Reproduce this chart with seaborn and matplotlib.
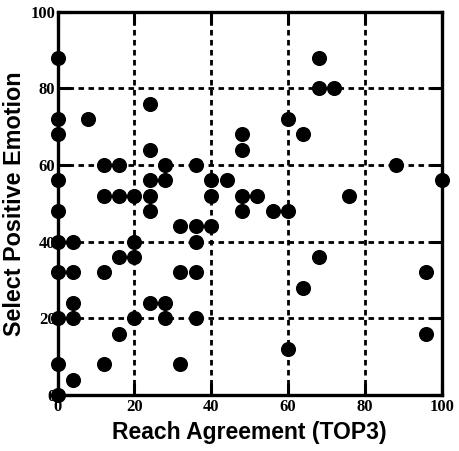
import matplotlib
matplotlib.use("Agg")
import matplotlib.pyplot as plt
import seaborn as sns
import pandas as pd

reach = [0, 0, 0, 8, 24, 24, 12, 16, 28, 36,
         0, 24, 28, 40, 44,
         12, 16, 20, 24, 40,
         0, 24,
         32, 36, 40, 36,
         0, 4, 20, 16, 20,
         0, 4, 12, 32, 36,
         4, 24, 28,
         0, 4, 20, 28, 36,
         16, 0, 12, 32, 4, 0,
         68, 68, 72, 60, 48, 64, 48, 88, 100,
         48, 52, 76, 48, 56, 60,
         68, 64, 96, 96, 60]
emotion = [88, 72, 68, 72, 76, 64, 60, 60, 60, 60,
           56, 56, 56, 56, 56,
           52, 52, 52, 52, 52,
           48, 48,
           44, 44, 44, 40,
           40, 40, 40, 36, 36,
           32, 32, 32, 32, 32,
           24, 24, 24,
           20, 20, 20, 20, 20,
           16, 8, 8, 8, 4, 0,
           88, 80, 80, 72, 68, 68, 64, 60, 56,
           52, 52, 52, 48, 48, 48,
           36, 28, 32, 16, 12]
ticks = [0, 20, 40, 60, 80, 100]
tick_labels = ["0", "20", "40", "60", "80", "100"]

df = pd.DataFrame({"Reach Agreement (TOP3)": reach, "Select Positive Emotion": emotion})

sns.set_style("white")
plt.rcParams['font.family'] = ['Liberation Sans', 'DejaVu Sans']

fig = plt.figure(figsize=(4.59, 4.51), dpi=100)
ax = fig.add_axes([0.1253, 0.1242, 0.8370, 0.8499])

sns.scatterplot(data=df, x="Reach Agreement (TOP3)", y="Select Positive Emotion",
                ax=ax, color="black", s=118, edgecolor="black", linewidth=0,
                clip_on=False, zorder=5, legend=False)

ax.set_xlim(0, 100)
ax.set_ylim(0, 100)
ax.set_xticks(ticks)
ax.set_yticks(ticks)
ax.set_xticklabels(tick_labels, family='Liberation Serif', fontweight='bold', fontsize=12)
ax.set_yticklabels(tick_labels, family='Liberation Serif', fontweight='bold', fontsize=12)

ax.grid(True, color="black", linestyle=(0, (2.0, 1.6)), linewidth=2.0, zorder=1)
ax.set_axisbelow(True)

for sp in ax.spines.values():
    sp.set_visible(True)
    sp.set_color("black")
    sp.set_linewidth(2.4)
    sp.set_zorder(6)

ax.tick_params(axis='both', which='both', direction='in', length=9, width=2.2,
               color='black', top=True, right=True, bottom=True, left=True,
               pad=1.5, labelcolor='black')
ax.tick_params(axis='x', pad=3)

ax.set_xlabel("Reach Agreement (TOP3)", fontsize=16.5, fontweight='bold',
              labelpad=4, color='black')
ax.set_ylabel("Select Positive Emotion", fontsize=16.8, fontweight='bold',
              labelpad=3, color='black')

fig.savefig("out.png", dpi=100, facecolor="white")
